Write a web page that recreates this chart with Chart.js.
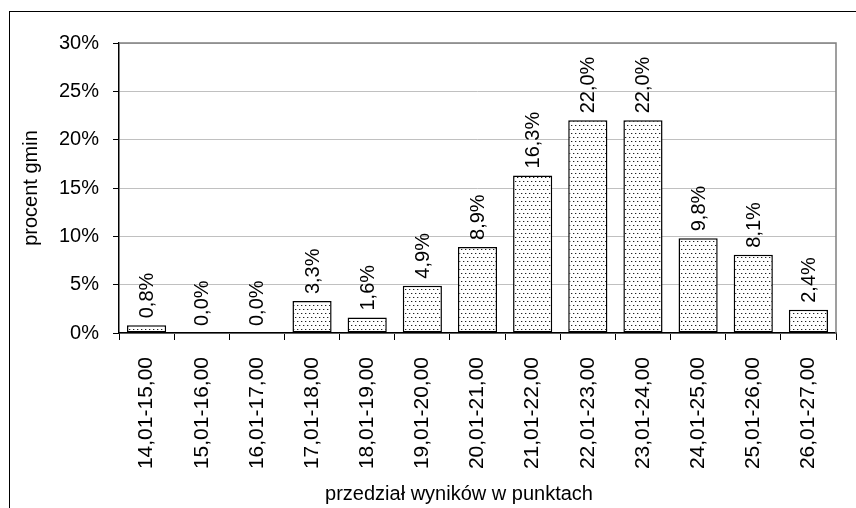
<!DOCTYPE html>
<html>
<head>
<meta charset="utf-8">
<script src="https://cdn.jsdelivr.net/npm/chart.js@4"></script>
<style>
  html, body { margin: 0; padding: 0; background: #fff; }
  #wrap { position: relative; width: 856px; height: 508px; }
  #frame { position: absolute; left: 9px; top: 11px; right: -2px; bottom: -2px; border-left: 1px solid #000; border-top: 1px solid #000; }
  canvas { position: absolute; left: 0; top: 0; }
</style>
</head>
<body>
<div id="wrap">
  <div id="frame"></div>
  <canvas id="myChart" width="856" height="508"></canvas>
</div>
<script>
'use strict';

let przedzialy = ['14,01-15,00','15,01-16,00','16,01-17,00','17,01-18,00','18,01-19,00','19,01-20,00',
  '20,01-21,00','21,01-22,00','22,01-23,00','23,01-24,00','24,01-25,00','25,01-26,00','26,01-27,00'];
let procentGmin = [0.8, 0.0, 0.0, 3.3, 1.6, 4.9, 8.9, 16.3, 22.0, 22.0, 9.8, 8.1, 2.4];
let yTicks = [0, 5, 10, 15, 20, 25, 30];
let xTitle = 'przedział wyników w punktach';

let font = 'Liberation Sans, Arial, sans-serif';

// kropkowany wzor jak w excelu
function makePattern(){
    let c = document.createElement('canvas');
    c.width = 8;
    c.height = 8;
    let g = c.getContext('2d');
    g.fillStyle = '#fff';
    g.fillRect(0, 0, 8, 8);
    g.fillStyle = '#222';
    g.fillRect(1, 1, 1, 1);
    g.fillRect(5, 1, 1, 1);
    g.fillRect(3, 5, 1, 1);
    g.fillRect(7, 5, 1, 1);
    g.fillStyle = '#bbb';
    g.fillRect(2, 1, 1, 1);
    g.fillRect(6, 1, 1, 1);
    g.fillRect(4, 5, 1, 1);
    g.fillRect(0, 5, 1, 1);
    return document.getElementById('myChart').getContext('2d').createPattern(c, 'repeat');
}

function fmt(v){
    return v.toFixed(1).replace('.', ',') + '%';
}

let labelsPlugin = {
    id: 'labelsPlugin',
    afterDatasetsDraw(chart){
        let ctx = chart.ctx;
        let meta = chart.getDatasetMeta(0);
        ctx.save();
        ctx.font = '20px ' + font;
        ctx.fillStyle = '#000';
        ctx.textAlign = 'left';
        ctx.textBaseline = 'middle';
        meta.data.forEach(function(bar, i){
            ctx.save();
            ctx.translate(bar.x + 1, bar.y - 7);
            ctx.rotate(-Math.PI / 2);
            ctx.fillText(fmt(procentGmin[i]), 0, 0);
            ctx.restore();
        });
        // tytul osi x - w excelu wycentrowany na calym wykresie
        ctx.textAlign = 'center';
        ctx.fillText(xTitle, 459, 494);
        ctx.restore();
    },
    beforeDatasetsDraw(chart){
        let a = chart.chartArea;
        let ctx = chart.ctx;
        ctx.save();
        ctx.strokeStyle = '#808080';
        ctx.lineWidth = 1.5;
        ctx.beginPath();
        ctx.moveTo(a.left, a.top);
        ctx.lineTo(a.right, a.top);
        ctx.lineTo(a.right, a.bottom);
        ctx.stroke();
        ctx.restore();
    }
};

let chardata = {
    type: 'bar',
    data: {
        labels: przedzialy,
        datasets: [{
            data: procentGmin,
            backgroundColor: makePattern(),
            borderColor: '#000',
            borderWidth: 1.5,
            borderSkipped: false,
            categoryPercentage: 0.71,
            barPercentage: 1
        }]
    },
    options: {
        responsive: false,
        animation: false,
        devicePixelRatio: 1,
        layout: { padding: { left: 0, right: 20, top: 43, bottom: 0 } },
        plugins: { legend: { display: false }, tooltip: { enabled: false } },
        scales: {
            x: {
                offset: true,
                grid: { offset: true, drawOnChartArea: false, color: '#000', tickLength: 7, lineWidth: 1 },
                border: { color: '#000', width: 1.5 },
                ticks: { color: '#000', font: { family: font, size: 21 }, minRotation: 90, maxRotation: 90, padding: 17 },
                afterFit(scale){ scale.height = 175; }
            },
            y: {
                min: 0,
                max: 30,
                afterBuildTicks(scale){ scale.ticks = yTicks.map(v => ({ value: v })); },
                grid: { color: '#c0c0c0', tickColor: '#000', tickLength: 6, lineWidth: 1 },
                border: { color: '#000', width: 1.5 },
                ticks: { color: '#000', font: { family: font, size: 20 }, padding: 14, callback: v => v + '%' },
                title: { display: true, text: 'procent gmin', color: '#000', font: { family: font, size: 20 }, padding: { top: 19, bottom: 0 } },
                afterFit(scale){ scale.width = 119; }
            }
        }
    },
    plugins: [labelsPlugin]
};

let ctx = document.getElementById('myChart').getContext('2d');
let myChart = new Chart(ctx, chardata);
</script>
</body>
</html>
